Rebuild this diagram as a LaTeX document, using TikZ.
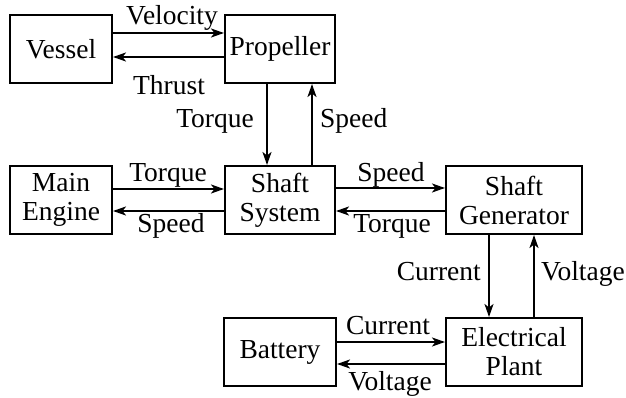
\documentclass[tikz,border=0pt]{standalone}
\usepackage{fontspec}
\setmainfont{Liberation Serif}
\usetikzlibrary{arrows.meta}
\begin{document}
\begin{tikzpicture}[x=1pt,y=-1pt,
  blk/.style={draw, line width=2pt, inner sep=0pt, align=center,
    font=\fontsize{27.5}{29}\selectfont},
  lbl/.style={inner sep=0pt, anchor=base, font=\fontsize{27.5}{29}\selectfont},
  conn/.style={line width=2pt, -{Stealth[length=13pt,width=9pt,inset=3.5pt]}}]
\useasboundingbox (0,0) rectangle (626,398);
% blocks
\node[blk, minimum width=102pt, minimum height=68pt] (vessel) at (61,49) {Vessel};
\node[blk, minimum width=110pt, minimum height=68pt] (prop) at (280,49) {Propeller};
\node[blk, minimum width=102pt, minimum height=68pt] (engine) at (61,200) {Main\\Engine};
\node[blk, minimum width=110pt, minimum height=68pt] (shaft) at (280,200) {Shaft\\System};
\node[blk, minimum width=136pt, minimum height=68pt] (gen) at (514,200) {Shaft\\Generator};
\node[blk, minimum width=112pt, minimum height=68pt] (bat) at (280,352) {Battery};
\node[blk, minimum width=136pt, minimum height=68pt] (plant) at (514,352) {Electrical\\Plant};
% connectors
\draw[conn] ([yshift=16pt]vessel.east) -- ([yshift=16pt]prop.west);
\draw[conn] ([yshift=-8pt]prop.west) -- ([yshift=-8pt]vessel.east);
\draw[conn] ([xshift=-13pt]prop.south) -- ([xshift=-13pt]shaft.north);
\draw[conn] ([xshift=32pt]shaft.north) -- ([xshift=32pt]prop.south);
\draw[conn] ([yshift=11pt]engine.east) -- ([yshift=11pt]shaft.west);
\draw[conn] ([yshift=-11pt]shaft.west) -- ([yshift=-11pt]engine.east);
\draw[conn] ([yshift=12pt]shaft.east) -- ([yshift=12pt]gen.west);
\draw[conn] ([yshift=-11pt]gen.west) -- ([yshift=-11pt]shaft.east);
\draw[conn] ([xshift=-25pt]gen.south) -- ([xshift=-25pt]plant.north);
\draw[conn] ([xshift=20pt]plant.north) -- ([xshift=20pt]gen.south);
\draw[conn] ([yshift=10pt]bat.east) -- ([yshift=10pt]plant.west);
\draw[conn] ([yshift=-12pt]plant.west) -- ([yshift=-12pt]bat.east);
% labels
\node[lbl] (l1) at (172,25) {Velocity};
\node[lbl] (l2) at (169,95) {Thrust};
\node[lbl, anchor=base east] (l3) at (254,128) {Torque};
\node[lbl, anchor=base west] (l4) at (320,128) {Speed};
\node[lbl] (l5) at (168,182) {Torque};
\node[lbl] (l6) at (171,233) {Speed};
\node[lbl] (l7) at (391,182) {Speed};
\node[lbl] (l8) at (392,233) {Torque};
\node[lbl, anchor=base east] (l9) at (481,280) {Current};
\node[lbl, anchor=base west] (l10) at (541,280) {Voltage};
\node[lbl] (l11) at (388,334) {Current};
\node[lbl] (l12) at (390,390) {Voltage};
\end{tikzpicture}
\end{document}
